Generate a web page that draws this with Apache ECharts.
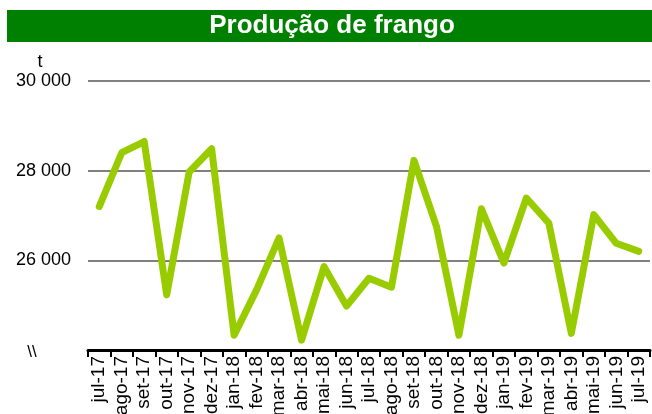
<!DOCTYPE html>
<html><head><meta charset="utf-8">
<script src="https://cdn.jsdelivr.net/npm/echarts@6/dist/echarts.min.js"></script>
<style>html,body{margin:0;padding:0;background:#fff}#c{width:652px;height:414px}</style>
</head><body><div id="c"></div>
<script>
var categories = ['jul-17','ago-17','set-17','out-17','nov-17','dez-17','jan-18','fev-18','mar-18','abr-18','mai-18','jun-18','jul-18','ago-18','set-18','out-18','nov-18','dez-18','jan-19','fev-19','mar-19','abr-19','mai-19','jun-19','jul-19'];
var production = [27200,28400,28650,25230,27970,28490,24330,25340,26500,24220,25860,24980,25600,25400,28230,26760,24330,27150,25940,27390,26830,24370,27020,26380,26200];
var yTicks = [24000,26000,28000,30000];

var chart = echarts.init(document.getElementById('c'));
var font = 'Liberation Sans, Arial, sans-serif';
chart.setOption({
  animation:false,
  graphic:[
    {type:'rect',shape:{x:7,y:10,width:645,height:32},style:{fill:'#008000'}},
    {type:'text',x:332,y:26,style:{text:'Produção de frango',fill:'#fff',font:'bold 26px '+font,textAlign:'center',textVerticalAlign:'middle'}},
    {type:'text',x:40,y:62,style:{text:'t',fill:'#000',font:'18px '+font,textAlign:'center',textVerticalAlign:'middle'}},
    {type:'text',x:32,y:352,style:{text:'\\\\',fill:'#000',font:'17px '+font,textAlign:'center',textVerticalAlign:'middle'}}
  ],
  grid:{left:88,right:2,top:81,bottom:64,containLabel:false,outerBoundsMode:'none'},
  xAxis:{type:'category',data:categories,boundaryGap:true,
    axisLine:{lineStyle:{color:'#000',width:3}},
    axisTick:{show:true,length:7,lineStyle:{color:'#000',width:2}},
    axisLabel:{rotate:90,color:'#000',fontFamily:font,fontSize:19,margin:6,interval:0}},
  yAxis:{type:'value',min:yTicks[0],max:yTicks[yTicks.length-1],interval:2000,
    axisLine:{show:false},axisTick:{show:false},
    splitLine:{lineStyle:{color:'#808080',width:2}},
    axisLabel:{color:'#000',fontFamily:font,fontSize:18,margin:17,
      formatter:function(v){ if(v===yTicks[0]) return ''; return String(v).replace(/\B(?=(\d{3})+(?!\d))/g,' '); }}},
  series:[{type:'line',data:production,symbol:'none',lineStyle:{color:'#99CC00',width:7,join:'round',cap:'round'}}]
});
</script></body></html>
